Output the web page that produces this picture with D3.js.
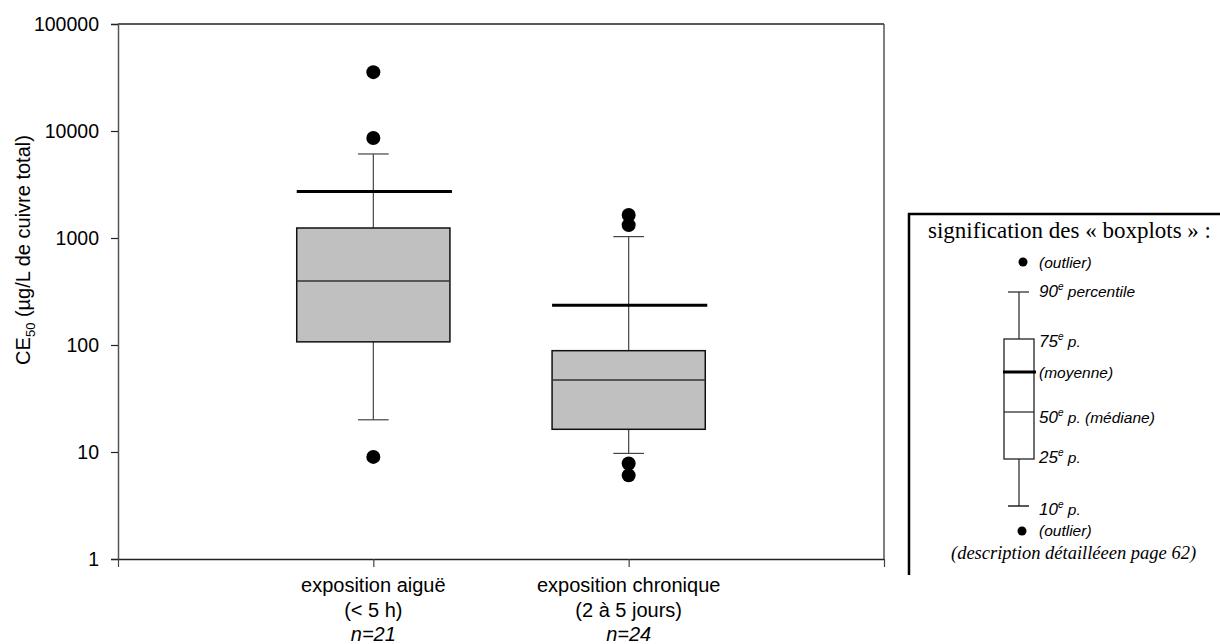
<!DOCTYPE html>
<html>
<head>
<meta charset="utf-8">
<script src="https://cdn.jsdelivr.net/npm/d3@7"></script>
<style>
  html, body { margin: 0; padding: 0; background: #fff; }
  svg { display: block; }
  text { font-family: Arial, "Liberation Sans", sans-serif; fill: #000; }
</style>
</head>
<body>
<div id="wrapper"></div>
<script>
// data
var categories = ["exposition aiguë", "exposition chronique"];
var subLabels = ["(< 5 h)", "(2 à 5 jours)"];
var nLabels = ["n=21", "n=24"];
var p10 = [20, 9.7];
var p25 = [107, 16.3];
var p50 = [396, 47];
var p75 = [1240, 88.5];
var p90 = [6100, 1030];
var means = [2720, 235];
var outliers = [[35500, 8600, 9], [1640, 1320, 7.8, 6.05]];
var yTicks = [1, 10, 100, 1000, 10000, 100000];

var width = 1220, height = 644;
var margin = { top: 24, left: 118, right: 336, bottom: 85 };

var svg = d3.select("#wrapper").append("svg")
  .attr("width", width)
  .attr("height", height);

var x = d3.scaleLinear().domain([0, 3]).range([margin.left, width - margin.right]);
var y = d3.scaleLog().domain([1, 100000]).range([height - margin.bottom, margin.top]);

var boxW = 0.6, capW = 0.06;

// frame (top and right)
svg.append("line")
  .attr("x1", x(0)).attr("x2", x(3))
  .attr("y1", y(100000)).attr("y2", y(100000))
  .attr("stroke", "#222").attr("stroke-width", 1.5);
svg.append("line")
  .attr("x1", x(3)).attr("x2", x(3))
  .attr("y1", y(100000)).attr("y2", y(1))
  .attr("stroke", "#555").attr("stroke-width", 1.5);

// y axis
var yAxis = svg.append("g")
  .attr("transform", "translate(" + x(0) + ",0)")
  .call(d3.axisLeft(y).tickValues(yTicks).tickFormat(d3.format("d")).tickSize(7).tickPadding(12));
yAxis.select(".domain").attr("stroke", "#555").attr("stroke-width", 1.5);
yAxis.selectAll(".tick line").attr("stroke", "#222").attr("stroke-width", 1.2);
yAxis.selectAll(".tick text")
  .style("font-family", "Arial, 'Liberation Sans', sans-serif")
  .style("font-size", "19.5px").attr("fill", "#000");

// x axis
var xAxis = svg.append("g")
  .attr("transform", "translate(0," + y(1) + ")")
  .call(d3.axisBottom(x).tickValues([0, 1, 2, 3]).tickFormat("").tickSizeInner(8).tickSizeOuter(0));
xAxis.select(".domain").attr("stroke", "#222").attr("stroke-width", 1.5);
xAxis.selectAll(".tick line").attr("stroke", "#444").attr("stroke-width", 1.2);

// category labels
var idx = d3.range(categories.length);
var labs = svg.append("g").selectAll("g.lab").data(idx).enter().append("g")
  .attr("class", "lab")
  .attr("transform", function (i) { return "translate(" + x(i + 1) + "," + y(1) + ")"; });
labs.append("text").attr("y", 33).attr("text-anchor", "middle").style("font-size", "20px")
  .text(function (i) { return categories[i]; });
labs.append("text").attr("y", 58).attr("text-anchor", "middle").style("font-size", "20px")
  .text(function (i) { return subLabels[i]; });
labs.append("text").attr("y", 82).attr("text-anchor", "middle").style("font-size", "20px")
  .style("font-style", "italic")
  .text(function (i) { return nLabels[i]; });

// y label
var yl = svg.append("text")
  .attr("transform", "translate(30," + 250 + ") rotate(-90)")
  .attr("text-anchor", "middle")
  .style("font-size", "20px");
yl.append("tspan").text("CE");
yl.append("tspan").attr("dy", 5).style("font-size", "13px").text("50");
yl.append("tspan").attr("dy", -5).text(" (µg/L de cuivre total)");

// boxes
var boxes = svg.append("g").selectAll("g.box").data(idx).enter().append("g").attr("class", "box");

// whiskers
boxes.append("line")
  .attr("x1", function (i) { return x(i + 1); }).attr("x2", function (i) { return x(i + 1); })
  .attr("y1", function (i) { return y(p90[i]); }).attr("y2", function (i) { return y(p10[i]); })
  .attr("stroke", "#444").attr("stroke-width", 1.2);
boxes.append("line")
  .attr("x1", function (i) { return x(i + 1 - capW); }).attr("x2", function (i) { return x(i + 1 + capW); })
  .attr("y1", function (i) { return y(p90[i]); }).attr("y2", function (i) { return y(p90[i]); })
  .attr("stroke", "#444").attr("stroke-width", 1.2);
boxes.append("line")
  .attr("x1", function (i) { return x(i + 1 - capW); }).attr("x2", function (i) { return x(i + 1 + capW); })
  .attr("y1", function (i) { return y(p10[i]); }).attr("y2", function (i) { return y(p10[i]); })
  .attr("stroke", "#444").attr("stroke-width", 1.2);

boxes.append("rect")
  .attr("x", function (i) { return x(i + 1 - boxW / 2); })
  .attr("width", function (i) { return x(i + 1 + boxW / 2) - x(i + 1 - boxW / 2); })
  .attr("y", function (i) { return y(p75[i]); })
  .attr("height", function (i) { return y(p25[i]) - y(p75[i]); })
  .attr("fill", "#c0c0c0").attr("stroke", "#111").attr("stroke-width", 1.5);

boxes.append("line")
  .attr("x1", function (i) { return x(i + 1 - boxW / 2); }).attr("x2", function (i) { return x(i + 1 + boxW / 2); })
  .attr("y1", function (i) { return y(p50[i]); }).attr("y2", function (i) { return y(p50[i]); })
  .attr("stroke", "#333").attr("stroke-width", 1.5);

boxes.append("line")
  .attr("x1", function (i) { return x(i + 1 - boxW / 2); }).attr("x2", function (i) { return x(i + 1 + boxW / 2) + 2; })
  .attr("y1", function (i) { return y(means[i]); }).attr("y2", function (i) { return y(means[i]); })
  .attr("stroke", "#000").attr("stroke-width", 3);

// outliers
var pts = [];
outliers.forEach(function (arr, i) { arr.forEach(function (v) { pts.push({ i: i, v: v }); }); });
svg.append("g").selectAll("circle").data(pts).enter().append("circle")
  .attr("cx", function (d) { return x(d.i + 1); })
  .attr("cy", function (d) { return y(d.v); })
  .attr("r", 7).attr("fill", "#000");

// legend explaining the boxplot
var lg = svg.append("g");
lg.append("path")
  .attr("d", "M909,575 L909,214 L1222,214")
  .attr("fill", "none").attr("stroke", "#000").attr("stroke-width", 2.5);
lg.append("text").attr("x", 928).attr("y", 238)
  .style("font-family", "'Times New Roman', 'Liberation Serif', serif")
  .style("font-size", "23px").text("signification des « boxplots » :");

var lx = 1019, lbx0 = 1004, lbx1 = 1034;
lg.append("circle").attr("cx", lx + 4).attr("cy", 262).attr("r", 4.5).attr("fill", "#000");
lg.append("circle").attr("cx", lx + 3).attr("cy", 531).attr("r", 4.5).attr("fill", "#000");
lg.append("line").attr("x1", lx).attr("x2", lx).attr("y1", 292).attr("y2", 506).attr("stroke", "#222").attr("stroke-width", 1.2);
lg.append("line").attr("x1", lx - 11).attr("x2", lx + 10).attr("y1", 292).attr("y2", 292).attr("stroke", "#222").attr("stroke-width", 1.2);
lg.append("line").attr("x1", lx - 11).attr("x2", lx + 10).attr("y1", 506).attr("y2", 506).attr("stroke", "#222").attr("stroke-width", 1.5);
lg.append("rect").attr("x", lbx0).attr("y", 339).attr("width", lbx1 - lbx0).attr("height", 120)
  .attr("fill", "#fff").attr("stroke", "#222").attr("stroke-width", 1.3);
lg.append("line").attr("x1", lbx0).attr("x2", lbx1).attr("y1", 412).attr("y2", 412).attr("stroke", "#222").attr("stroke-width", 1.2);
lg.append("line").attr("x1", lbx0 - 1).attr("x2", lbx1 + 2).attr("y1", 372).attr("y2", 372).attr("stroke", "#000").attr("stroke-width", 3);

var legendItems = [
  { y: 268, main: "(outlier)", sup: "", rest: "" },
  { y: 297, main: "90", sup: "e", rest: " percentile" },
  { y: 347, main: "75", sup: "e", rest: " p." },
  { y: 378, main: "(moyenne)", sup: "", rest: "" },
  { y: 423, main: "50", sup: "e", rest: " p. (médiane)" },
  { y: 463, main: "25", sup: "e", rest: " p." },
  { y: 515, main: "10", sup: "e", rest: " p." },
  { y: 536, main: "(outlier)", sup: "", rest: "" }
];
legendItems.forEach(function (d) {
  var t = lg.append("text").attr("x", 1039).attr("y", d.y)
    .style("font-size", d.main.charAt(0) === "(" ? "15.5px" : "17px").style("font-style", "italic");
  t.append("tspan").text(d.main);
  if (d.sup) {
    t.append("tspan").attr("dy", -7).style("font-size", "10px").text(d.sup);
    t.append("tspan").attr("dy", 7).style("font-size", "15.5px").text(d.rest);
  }
});
lg.append("text").attr("x", 951).attr("y", 559)
  .style("font-family", "'Times New Roman', 'Liberation Serif', serif")
  .style("font-size", "18.5px").style("font-style", "italic")
  .text("(description détailléeen page 62)");
</script>
</body>
</html>
